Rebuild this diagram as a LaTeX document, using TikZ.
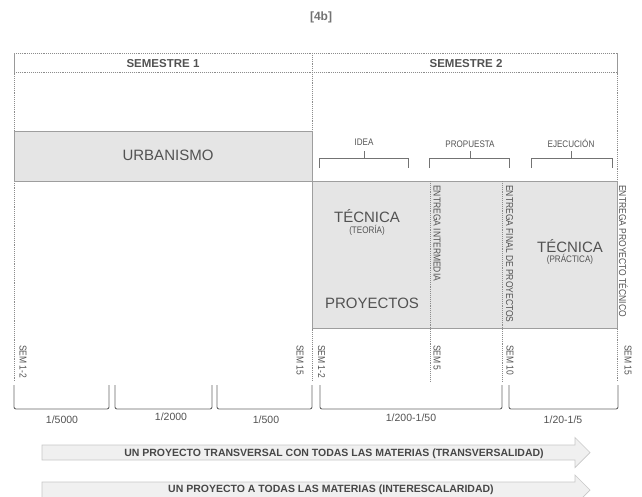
\documentclass[tikz,border=0pt]{standalone}
\usepackage{fontspec}
\setmainfont{Liberation Sans}
\newfontfamily\narrowsans{Liberation Sans}[FakeStretch=0.85]
\begin{document}
\begin{tikzpicture}[x=1pt,y=-1pt,
  txt/.style={text=black!68, inner sep=0pt, font=\narrowsans\fontsize{9.5}{11}\selectfont},
  big/.style={txt, font=\fontsize{15}{17}\selectfont},
  sem/.style={txt, font=\bfseries\fontsize{11.5}{13}\selectfont},
  scl/.style={txt, font=\fontsize{10.5}{12}\selectfont},
  rot/.style={txt, font=\narrowsans\fontsize{10}{12}\selectfont, rotate=-90, anchor=west},
  dots/.style={draw=black!45, line width=0.6pt, dash pattern=on 0.8pt off 1.1pt},
  panel/.style={fill=black!10, draw=black!38, line width=0.7pt},
  brk/.style={draw=black!55, line width=0.6pt},
  lowbrk/.style={draw=black!60, line width=0.9pt, rounded corners=2pt},
  flow/.style={fill=black!6, draw=black!22, line width=0.7pt},
  flowtxt/.style={txt, text=black!72, font=\bfseries\fontsize{10.5}{12}\selectfont}]
\path[use as bounding box] (0,0) rectangle (642,496);
\begin{scope}
\clip (0,0) rectangle (642,496);

% title
\node[txt, text=black!55, font=\bfseries\fontsize{12}{14}\selectfont] (title) at (321,17) {[4b]};

% header
\draw[dots] (14,53) -- (617,53);
\draw[dots] (14,72.5) -- (617,72.5);
\draw[draw=black!40, line width=0.6pt] (14,53) -- (14,72.5);
\draw[draw=black!40, line width=0.6pt] (617,53) -- (617,72.5);
\node[sem] (s1) at (163,64) {SEMESTRE 1};
\node[sem] (s2) at (466,64) {SEMESTRE 2};

% vertical dotted guides
\draw[dots] (14,72.5) -- (14,381);
\draw[dots] (312,53) -- (312,381);
\draw[dots] (617,72.5) -- (617,381);
\draw[dots] (430,181) -- (430,381);
\draw[dots] (502,181) -- (502,381);

% URBANISMO panel
\draw[panel] (14,131) rectangle (312,181);
\node[big] (urb) at (168,155) {URBANISMO};

% big panel
\draw[panel] (312,181) rectangle (617,328);
\draw[dots] (430,181) -- (430,328);
\draw[dots] (502,181) -- (502,328);
\node[big] (tec1) at (367,216) {TÉCNICA};
\node[txt] (teo) at (367,230) {(TEORÍA)};
\node[big] (proy) at (372,303) {PROYECTOS};
\node[big] (tec2) at (570,246) {TÉCNICA};
\node[txt] (pra) at (570,259) {(PRÁCTICA)};

% rotated delivery labels
\node[rot] (e1) at (437,185) {ENTREGA INTERMEDIA};
\node[rot] (e2) at (509.5,185) {ENTREGA FINAL DE PROYECTOS};
\node[rot] (e3) at (623.5,185) {ENTREGA PROYECTO TÉCNICO};

% phase brackets
\node[txt] (idea) at (364,142) {IDEA};
\draw[brk] (319,168) -- (319,158) -- (408,158) -- (408,168);
\draw[brk] (364,158) -- (364,151);
\node[txt] (prop) at (470,144) {PROPUESTA};
\draw[brk] (429,168) -- (429,158) -- (509,158) -- (509,168);
\draw[brk] (470,158) -- (470,151);
\node[txt] (ejec) at (571,143) {EJECUCIÓN};
\draw[brk] (531,168) -- (531,158) -- (612,158) -- (612,168);
\draw[brk] (571,158) -- (571,151);

% week labels
\node[rot] (w1) at (23,345) {SEM 1-2};
\node[rot] (w2) at (300,345) {SEM 15};
\node[rot] (w3) at (321.5,345) {SEM 1-2};
\node[rot] (w4) at (437,345) {SEM 5};
\node[rot] (w5) at (510,345) {SEM 10};
\node[rot] (w6) at (628,345) {SEM 15};

% scale brackets
\draw[lowbrk] (14,385) -- (14,409) -- (109,409) -- (109,385);
\draw[lowbrk] (115,385) -- (115,409) -- (212,409) -- (212,385);
\draw[lowbrk] (217,385) -- (217,409) -- (312,409) -- (312,385);
\draw[lowbrk] (320,385) -- (320,409) -- (502,409) -- (502,385);
\draw[lowbrk] (509,385) -- (509,409) -- (618,409) -- (618,385);
\node[scl] (k1) at (62,420) {1/5000};
\node[scl] (k2) at (171,417) {1/2000};
\node[scl] (k3) at (266,420) {1/500};
\node[scl] (k4) at (411,418) {1/200-1/50};
\node[scl] (k5) at (563,420) {1/20-1/5};

% flow arrows
\draw[flow] (42,445) -- (575,445) -- (575,437.5) -- (590,452.5) -- (575,467.5) -- (575,460) -- (42,460) -- cycle;
\node[flowtxt] (a1) at (334,453.5) {UN PROYECTO TRANSVERSAL CON TODAS LAS MATERIAS (TRANSVERSALIDAD)};
\draw[flow] (42,482) -- (575,482) -- (575,475) -- (590,490) -- (575,505) -- (575,498) -- (42,498) -- cycle;
\node[flowtxt] (a2) at (331,489.5) {UN PROYECTO A TODAS LAS MATERIAS (INTERESCALARIDAD)};
\end{scope}
\end{tikzpicture}
\end{document}
